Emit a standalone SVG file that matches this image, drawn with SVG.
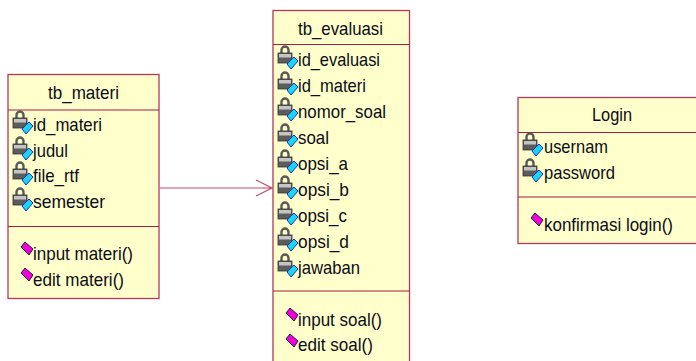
<svg xmlns="http://www.w3.org/2000/svg" width="696" height="361" viewBox="0 0 696 361">
<style>
.box{fill:#ffffcb;stroke:#b5375c;stroke-width:1.3}
.div{stroke:#a81c48;stroke-width:1.2;fill:none}
text{font-family:"Liberation Sans",Arial,sans-serif;font-size:18.5px;fill:#0c0c18}
.conn{fill:none;stroke:#bf4a6c;stroke-width:1.2}
</style>
<defs>
<g id="attr">
<path d="M3.500-11V-14a3.500 3.500 0 0 1 7 0V-11" fill="none" stroke="#5a5a5a" stroke-width="2.400"/>
<rect x="0" y="-11" width="14" height="10" fill="#5c5c5c" stroke="#333" stroke-width="0.800"/>
<rect x="1" y="-10" width="12" height="3.500" fill="#c4c4c4"/>
<path d="M9 0 16-7 20-3 13 5Z" fill="#1cd4f4" stroke="#1535b8" stroke-width="1"/>
</g>
<g id="op">
<path d="M0-3 4-8 12-1 8 5Z" fill="#f000e0" stroke="#222" stroke-width="1"/>
</g>
</defs>
<g id="connectors">
<path class="conn" d="M160 188H272M256 180 272 188 256 196"/>
</g>
<g id="tb_materi">
<rect class="box" x="8" y="74.500" width="151" height="224"/>
<path class="div" d="M8 110H159M8 226.500H159"/>
<text x="48" y="99" textLength="71" lengthAdjust="spacingAndGlyphs">tb_materi</text>
<use href="#attr" x="13" y="129"/><text x="33" y="130.500" textLength="69" lengthAdjust="spacingAndGlyphs">id_materi</text>
<use href="#attr" x="13" y="155"/><text x="33" y="156.500" textLength="35" lengthAdjust="spacingAndGlyphs">judul</text>
<use href="#attr" x="13" y="180"/><text x="33" y="181.500" textLength="46" lengthAdjust="spacingAndGlyphs">file_rtf</text>
<use href="#attr" x="13" y="206"/><text x="33" y="207.500" textLength="72" lengthAdjust="spacingAndGlyphs">semester</text>
<use href="#op" x="21" y="250"/><text x="33" y="260" textLength="100" lengthAdjust="spacingAndGlyphs">input materi()</text>
<use href="#op" x="21" y="276"/><text x="33" y="286" textLength="91" lengthAdjust="spacingAndGlyphs">edit materi()</text>
</g>
<g id="tb_evaluasi">
<rect class="box" x="273" y="10.500" width="136.500" height="360"/>
<path class="div" d="M273 44.500H409.500M273 291H409.500"/>
<text x="298" y="35" textLength="85" lengthAdjust="spacingAndGlyphs">tb_evaluasi</text>
<use href="#attr" x="278" y="64"/><text x="298" y="65.500" textLength="82" lengthAdjust="spacingAndGlyphs">id_evaluasi</text>
<use href="#attr" x="278" y="90"/><text x="298" y="91.500" textLength="68" lengthAdjust="spacingAndGlyphs">id_materi</text>
<use href="#attr" x="278" y="116"/><text x="298" y="117.500" textLength="88" lengthAdjust="spacingAndGlyphs">nomor_soal</text>
<use href="#attr" x="278" y="142"/><text x="298" y="143.500" textLength="31" lengthAdjust="spacingAndGlyphs">soal</text>
<use href="#attr" x="278" y="168"/><text x="298" y="169.500" textLength="50" lengthAdjust="spacingAndGlyphs">opsi_a</text>
<use href="#attr" x="278" y="194"/><text x="298" y="195.500" textLength="51" lengthAdjust="spacingAndGlyphs">opsi_b</text>
<use href="#attr" x="278" y="220"/><text x="298" y="221.500" textLength="49" lengthAdjust="spacingAndGlyphs">opsi_c</text>
<use href="#attr" x="278" y="246"/><text x="298" y="247.500" textLength="51" lengthAdjust="spacingAndGlyphs">opsi_d</text>
<use href="#attr" x="278" y="272"/><text x="298" y="273.500" textLength="62" lengthAdjust="spacingAndGlyphs">jawaban</text>
<use href="#op" x="286" y="316"/><text x="298" y="326" textLength="84" lengthAdjust="spacingAndGlyphs">input soal()</text>
<use href="#op" x="286" y="342"/><text x="298" y="351" textLength="75" lengthAdjust="spacingAndGlyphs">edit soal()</text>
</g>
<g id="Login">
<rect class="box" x="518" y="97.500" width="190" height="146"/>
<path class="div" d="M518 132.500H696M518 197H696"/>
<text x="592" y="121" textLength="40" lengthAdjust="spacingAndGlyphs">Login</text>
<use href="#attr" x="523" y="151"/><text x="544" y="152.500" textLength="64" lengthAdjust="spacingAndGlyphs">usernam</text>
<use href="#attr" x="523" y="177"/><text x="544" y="178.500" textLength="71" lengthAdjust="spacingAndGlyphs">password</text>
<use href="#op" x="531" y="221"/><text x="544" y="231" textLength="129" lengthAdjust="spacingAndGlyphs">konfirmasi login()</text>
</g>
</svg>
